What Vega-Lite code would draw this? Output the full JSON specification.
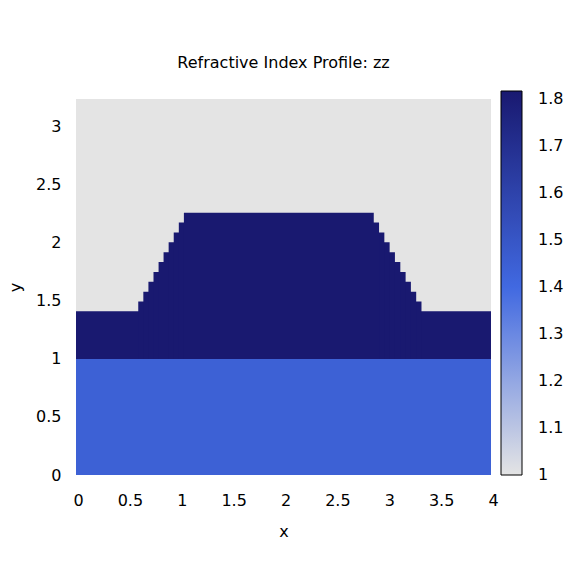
{
  "$schema": "https://vega.github.io/schema/vega-lite/v6.json",
  "width": 415,
  "height": 376,
  "autosize": {"type": "none"},
  "padding": {"left": 76, "top": 99, "right": 75, "bottom": 91},
  "background": "white",
  "title": {"text": "Refractive Index Profile: zz", "font": "DejaVu Sans", "fontSize": 16, "fontWeight": "normal", "color": "black", "offset": 20},
  "data": {"values": [
    {"x0": 0, "x1": 4, "y0": 0, "y1": 3.24, "n": 1.0},
    {"x0": 0, "x1": 4, "y0": 0, "y1": 1.0, "n": 1.444},
    {"x0": 0, "x1": 4, "y0": 1.0, "y1": 1.41, "n": 1.817},
    {"x0": 0.600, "x1": 3.330, "y0": 1.0, "y1": 1.495, "n": 1.817},
    {"x0": 0.649, "x1": 3.279, "y0": 1.0, "y1": 1.580, "n": 1.817},
    {"x0": 0.698, "x1": 3.228, "y0": 1.0, "y1": 1.665, "n": 1.817},
    {"x0": 0.747, "x1": 3.177, "y0": 1.0, "y1": 1.750, "n": 1.817},
    {"x0": 0.796, "x1": 3.126, "y0": 1.0, "y1": 1.835, "n": 1.817},
    {"x0": 0.844, "x1": 3.074, "y0": 1.0, "y1": 1.920, "n": 1.817},
    {"x0": 0.893, "x1": 3.023, "y0": 1.0, "y1": 2.005, "n": 1.817},
    {"x0": 0.942, "x1": 2.972, "y0": 1.0, "y1": 2.090, "n": 1.817},
    {"x0": 0.991, "x1": 2.921, "y0": 1.0, "y1": 2.175, "n": 1.817},
    {"x0": 1.040, "x1": 2.870, "y0": 1.0, "y1": 2.260, "n": 1.817}
  ]},
  "mark": {"type": "rect", "strokeWidth": 0},
  "encoding": {
    "x": {"field": "x0", "type": "quantitative", "title": "x",
      "scale": {"domain": [0, 4], "nice": false, "zero": false},
      "axis": {"values": [0, 0.5, 1, 1.5, 2, 2.5, 3, 3.5, 4], "format": "~g", "labelFlush": false, "labelBound": false, "labelPadding": 17, "titlePadding": 15, "labelOffset": 2}},
    "x2": {"field": "x1"},
    "y": {"field": "y0", "type": "quantitative", "title": "y",
      "scale": {"domain": [0, 3.24], "nice": false, "zero": false},
      "axis": {"values": [0, 0.5, 1, 1.5, 2, 2.5, 3], "format": "~g", "labelFlush": false, "labelBound": false, "labelPadding": 15, "titlePadding": 12}},
    "y2": {"field": "y1"},
    "color": {"field": "n", "type": "quantitative",
      "scale": {"domain": [1, 1.4, 1.817], "range": ["#e4e4e4", "#4169e1", "#191970"], "interpolate": "rgb"},
      "legend": {"orient": "none", "legendX": 425, "legendY": -8, "direction": "vertical", "title": null,
        "gradientLength": 384, "gradientThickness": 21, "gradientStrokeColor": "black", "gradientStrokeWidth": 1,
        "values": [1, 1.1, 1.2, 1.3, 1.4, 1.5, 1.6, 1.7, 1.8], "format": "~g",
        "labelOffset": 16, "labelBaseline": "middle", "labelOverlap": false, "labelFontSize": 16, "labelFont": "DejaVu Sans", "labelColor": "black", "padding": 0,
        "encode": {"labels": {"update": {"baseline": {"value": "middle"}}}}}}
  },
  "config": {
    "view": {"stroke": null},
    "axis": {"grid": false, "ticks": false, "domain": false, "labelFont": "DejaVu Sans", "labelFontSize": 16, "labelColor": "black",
      "titleFont": "DejaVu Sans", "titleFontSize": 16, "titleFontWeight": "normal", "titleColor": "black"}
  }
}
